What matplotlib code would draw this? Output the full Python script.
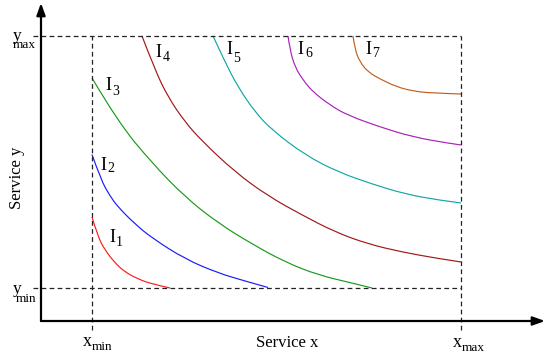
import matplotlib
matplotlib.use("Agg")
import matplotlib.pyplot as plt
from matplotlib.path import Path
from matplotlib.patches import PathPatch

plt.rcParams["font.family"] = "Liberation Serif"
plt.rcParams["lines.scale_dashes"] = False

# bounds of the feasible service region
x_min, x_max = 51, 420
y_min, y_max = 33, 285

# indifference curves, points
i1_x = [51, 57, 64, 74, 84, 97, 111, 129]
i1_y = [104, 84, 71, 58, 49, 42, 37, 33]
i2_x = [51, 60, 69, 77, 94, 111, 144, 177, 204, 227]
i2_y = [166.5, 141, 125, 114, 97, 83, 62, 48, 40, 33.5]
i3_x = [51, 77, 111, 144, 177, 211, 244, 277, 311, 331]
i3_y = [243, 199, 158, 124, 98, 77, 59, 46, 38, 33]
i4_x = [101, 114, 127, 144, 161, 194, 227, 261, 294, 327, 361, 394, 420]
i4_y = [285, 251, 224, 199, 180, 149, 125, 106, 89, 77, 69, 63, 59]
i5_x = [172, 184, 197, 214, 231, 264, 297, 331, 364, 397, 420]
i5_y = [285, 259, 234, 209, 191, 166, 149, 137, 127, 121, 118]
i6_x = [247, 249, 254, 262, 272, 289, 306, 339, 372, 406, 420]
i6_y = [285, 271, 254, 241, 229, 216, 206, 194, 184, 178, 176]
i7_x = [312, 314, 319, 327, 339, 356, 372, 389, 420]
i7_y = [285, 271, 259, 249, 242, 234, 230, 228, 227]

curves = [(i1_x, i1_y), (i2_x, i2_y), (i3_x, i3_y), (i4_x, i4_y),
          (i5_x, i5_y), (i6_x, i6_y), (i7_x, i7_y)]
colors = ["#ff1a1a", "#1a1aff", "#1a9a1a", "#a01818",
          "#14a6a6", "#a822b8", "#c0601e"]
subscripts = ["1", "2", "3", "4", "5", "6", "7"]

# label anchors: "I" (centre, baseline) and its index
lbl_i = [(71, 78.5), (62, 151.5), (67, 230.5), (117, 263.7),
         (188, 267), (259, 267), (327, 267)]
lbl_sub = [(78.5, 75.3), (70, 149.5), (74.3, 226), (125, 260.3),
           (196, 259.3), (268, 263.7), (335, 263.7)]


def smooth_path(xs, ys):
    # quadratic segments through the midpoints, pinned at both ends
    pts = list(zip(xs, ys))
    verts = [pts[0]]
    codes = [Path.MOVETO]
    n = len(pts)
    for k in range(1, n - 1):
        if k == n - 2:
            end = pts[-1]
        else:
            end = ((pts[k][0] + pts[k + 1][0]) / 2,
                   (pts[k][1] + pts[k + 1][1]) / 2)
        verts += [pts[k], end]
        codes += [Path.CURVE3, Path.CURVE3]
    return Path(verts, codes)


fig = plt.figure(figsize=(5.55, 3.54), dpi=100)
ax = fig.add_axes([0, 0, 1, 1])
ax.set_xlim(-41, 514)
ax.set_ylim(-33, 321)
ax.set_axis_off()

# axes with arrow heads
arrow = dict(arrowstyle="-|>,head_length=0.72,head_width=0.26",
             color="black", lw=1.6, shrinkA=0, shrinkB=0,
             mutation_scale=10)
ax.annotate("", xy=(504, 0), xytext=(0, 0), arrowprops=arrow)
ax.annotate("", xy=(0, 318), xytext=(0, 0), arrowprops=arrow)

# dashed bounds
dash = dict(color="#222222", lw=0.9, dashes=(3.4, 2.4))
ax.plot([x_min, x_min], [-9, y_max], **dash)
ax.plot([x_max, x_max], [-9, y_max], **dash)
ax.plot([-8, x_max], [y_min, y_min], **dash)
ax.plot([-8, x_max], [y_max, y_max], **dash)

for (cx, cy), c in zip(curves, colors):
    ax.add_patch(PathPatch(smooth_path(cx, cy), fill=False,
                           edgecolor=c, lw=0.85, capstyle="butt"))

for (ix, iy), (sx, sy), s in zip(lbl_i, lbl_sub, subscripts):
    ax.text(ix, iy, "I", fontsize=13, ha="center", va="baseline")
    ax.text(sx, sy, s, fontsize=10, ha="center", va="baseline")

# bound labels
ax.text(42, -25, "x", fontsize=13, ha="left", va="baseline")
ax.text(51, -29, "min", fontsize=9.5, ha="left", va="baseline")
ax.text(412, -26, "x", fontsize=13, ha="left", va="baseline")
ax.text(421, -30, "max", fontsize=9.5, ha="left", va="baseline")
ax.text(-28.5, 281.5, "y", fontsize=12.5, ha="left", va="baseline")
ax.text(-28, 272.7, "max", fontsize=9.5, ha="left", va="baseline")
ax.text(-28.5, 28, "y", fontsize=12.5, ha="left", va="baseline")
ax.text(-25.5, 19.3, "min", fontsize=9.5, ha="left", va="baseline")

ax.text(246, -26, "Service x", fontsize=12, ha="center", va="baseline")
ax.text(-24, 143, "Service y", fontsize=12, rotation=90,
        ha="center", va="center")

fig.savefig("out.png", dpi=100)
